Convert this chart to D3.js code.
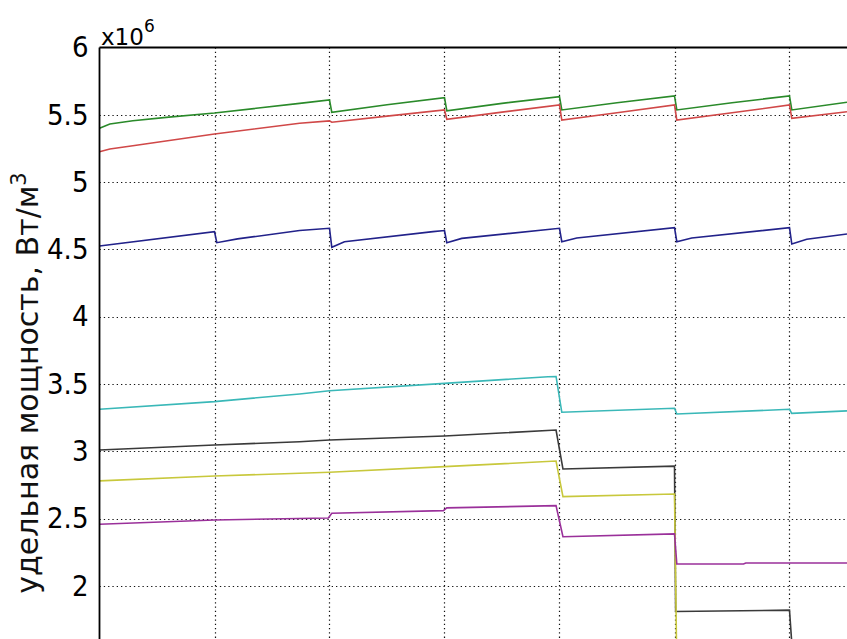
<!DOCTYPE html>
<html><head><meta charset="utf-8">
<script src="https://cdn.jsdelivr.net/npm/d3@7"></script>
<style>body{margin:0;background:#fff}</style>
</head><body>
<svg id="c" width="847" height="639"></svg>
<script>
// x in grid units (vertical grid lines at 1..6), y in units of 1e6 W/m^3
const greenSeries = [[0,5.40],[0.09,5.432],[0.29,5.456],[0.58,5.481],[1,5.513],[1.74,5.585],[2,5.61],[2.02,5.518],[2.5,5.575],[3,5.627],[3.02,5.53],[3.5,5.585],[4,5.635],[4.02,5.536],[4.5,5.59],[5,5.64],[5.02,5.536],[5.5,5.59],[6,5.64],[6.02,5.536],[6.5,5.593]];
const redSeries = [[0,5.226],[0.09,5.246],[0.29,5.27],[1,5.357],[1.74,5.437],[2,5.455],[2.02,5.445],[2.5,5.49],[3,5.536],[3.02,5.467],[3.5,5.52],[4,5.573],[4.02,5.461],[4.5,5.515],[5,5.573],[5.02,5.461],[5.5,5.515],[6,5.573],[6.02,5.474],[6.5,5.523]];
const blueSeries = [[0,4.525],[1,4.632],[1.02,4.55],[1.2,4.578],[1.74,4.64],[2,4.657],[2.02,4.516],[2.13,4.557],[2.9,4.632],[3,4.64],[3.02,4.55],[3.15,4.582],[4,4.657],[4.02,4.557],[4.15,4.585],[5,4.661],[5.02,4.557],[5.15,4.585],[6,4.661],[6.02,4.54],[6.15,4.575],[6.5,4.614]];
const cyanSeries = [[0,3.312],[1,3.369],[1.74,3.426],[2,3.45],[3,3.505],[3.9,3.554],[3.97,3.556],[4.02,3.29],[5,3.32],[5.02,3.277],[6,3.312],[6.02,3.282],[6.5,3.30]];
const blackSeries = [[0,3.01],[1,3.047],[1.74,3.071],[2,3.084],[3,3.114],[3.97,3.158],[4.03,2.869],[5,2.89],[5.01,1.81],[6,1.82],[6.03,1.45],[6.5,1.45]];
const yellowSeries = [[0,2.78],[1,2.817],[1.74,2.837],[2,2.844],[3,2.886],[3.97,2.928],[4.03,2.663],[5,2.683],[5.02,1.40],[6.5,1.40]];
const magentaSeries = [[0,2.458],[1,2.49],[1.99,2.505],[2.02,2.54],[2.99,2.559],[3.02,2.58],[3.97,2.596],[4.03,2.365],[5,2.386],[5.02,2.163],[5.6,2.163],[5.62,2.17],[6.5,2.17]];
const seriesNames = ["green","red","blue","cyan","black","yellow","magenta"];
const seriesColors = ["#2a8a2a","#d04848","#22228a","#3ab8b8","#3a3a3a","#c8c83c","#9a309a"];
const yTicks = [2,2.5,3,3.5,4,4.5,5,5.5,6];
const yTickLabels = ["2","2.5","3","3.5","4","4.5","5","5.5","6"];
const xGrid = [1,2,3,4,5,6];
const yLabel = "удельная мощность,  Вт/м";
const yLabelSup = "3";
const expLabel = "x10";
const expSup = "6";

const allSeries = [greenSeries,redSeries,blueSeries,cyanSeries,blackSeries,yellowSeries,magentaSeries];
const svg = d3.select("#c");
const L = 99.5, T = 47.5;
const x = d3.scaleLinear().domain([0,7]).range([L, L+805]);
const y = d3.scaleLinear().domain([1.5,6]).range([T+4.5*134.6, T]);

svg.append("defs").append("clipPath").attr("id","clip")
  .append("rect").attr("x",L).attr("y",T).attr("width",900).attr("height",700);

// grid
const g = svg.append("g").attr("stroke","#111").attr("stroke-width",1.2).attr("stroke-dasharray","1.3,3");
g.selectAll("line.h").data(yTicks.filter(v=>v<6)).join("line")
  .attr("x1",L).attr("x2",900).attr("y1",d=>Math.round(y(d))+0.5).attr("y2",d=>Math.round(y(d))+0.5);
g.selectAll("line.v").data(xGrid).join("line")
  .attr("y1",T).attr("y2",700).attr("x1",d=>Math.round(x(d))+0.5).attr("x2",d=>Math.round(x(d))+0.5);

// lines
const line = d3.line().x(d=>x(d[0])).y(d=>y(d[1]));
svg.append("g").attr("clip-path","url(#clip)").selectAll("path").data(allSeries).join("path")
  .attr("d",line).attr("fill","none").attr("stroke",(d,i)=>seriesColors[i]).attr("stroke-width",1.6);

// axes
const ya = d3.axisLeft(y).tickValues(yTicks).tickFormat((d,i)=>yTickLabels[i]).tickSize(0).tickPadding(11);
const ag = svg.append("g").attr("transform",`translate(${L},0)`).call(ya);
ag.select(".domain").remove();
ag.selectAll("text").attr("font-family","DejaVu Sans Condensed, DejaVu Sans").attr("font-size",29).attr("fill","#000");
svg.append("line").attr("x1",L).attr("x2",L).attr("y1",T).attr("y2",700).attr("stroke","#000").attr("stroke-width",1.8);
svg.append("line").attr("x1",L).attr("x2",900).attr("y1",T).attr("y2",T).attr("stroke","#000").attr("stroke-width",1.8);

// exponent
const et = svg.append("text").attr("x",101).attr("y",45).attr("font-family","DejaVu Sans").attr("font-size",23).text(expLabel);
et.append("tspan").attr("dy",-13).attr("font-size",17).text(expSup);

// y label
const yl = svg.append("text").attr("transform","translate(38,383) rotate(-90)").attr("text-anchor","middle")
  .attr("font-family","DejaVu Sans").attr("font-size",30).attr("fill","#111").text(yLabel);
yl.append("tspan").attr("dy",-12).attr("font-size",21).text(yLabelSup);
</script>
</body></html>
